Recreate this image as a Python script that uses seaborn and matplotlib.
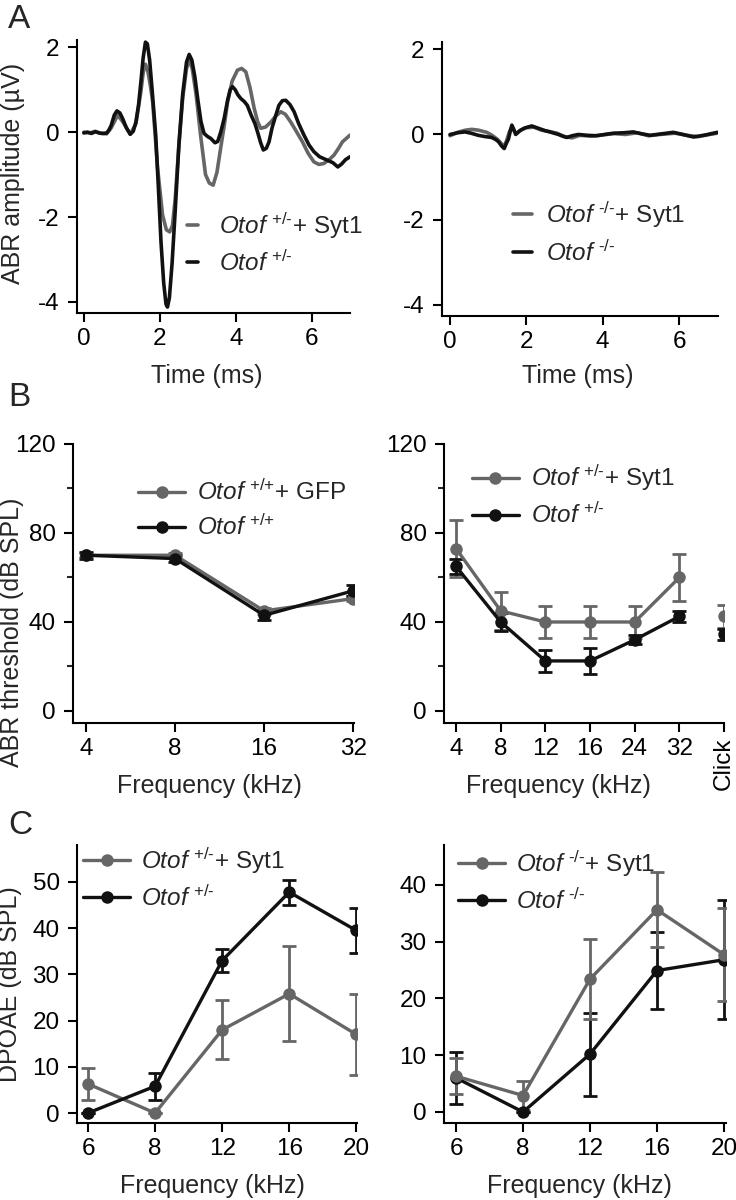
import numpy as np
import pandas as pd
import matplotlib
matplotlib.use("Agg")
import matplotlib.pyplot as plt
import seaborn as sns

# ---- panel A: ABR waveforms (time in ms, amplitude in uV) ----
t_het_syt1 = [0.0, 0.15, 0.3, 0.45, 0.6, 0.72, 0.89, 1.02, 1.22, 1.37, 1.5, 1.56, 1.62, 1.68, 1.75, 1.81,
              1.94, 2.07, 2.17, 2.26, 2.33, 2.4, 2.5, 2.6, 2.7, 2.77, 2.85, 2.95, 3.07, 3.2, 3.3, 3.4,
              3.5, 3.61, 3.7, 3.78, 3.9, 4.04, 4.15, 4.26, 4.37, 4.48, 4.57, 4.65, 4.78, 4.92, 5.05,
              5.18, 5.3, 5.44, 5.6, 5.75, 5.9, 6.05, 6.18, 6.31, 6.45, 6.58, 6.7, 6.8, 6.9, 7.0]
a_het_syt1 = [0.0, -0.02, 0.02, -0.03, -0.04, 0.1, 0.4, 0.25, -0.05, 0.2, 0.95, 1.4, 1.6, 1.45, 1.1, 0.71,
              -0.85, -1.95, -2.3, -2.35, -2.2, -1.6, -0.3, 0.8, 1.5, 1.7, 1.5, 0.9, -0.07, -1.0, -1.2, -1.25,
              -0.95, -0.31, 0.2, 0.71, 1.2, 1.46, 1.5, 1.42, 1.05, 0.56, 0.25, 0.09, 0.12, 0.24, 0.38,
              0.48, 0.42, 0.24, 0.0, -0.23, -0.5, -0.7, -0.76, -0.74, -0.65, -0.54, -0.38, -0.23, -0.15, -0.07]

t_het = [0.0, 0.1, 0.2, 0.3, 0.4, 0.5, 0.6, 0.66, 0.72, 0.8, 0.87, 0.95, 1.02, 1.12, 1.22, 1.3, 1.37,
         1.44, 1.5, 1.56, 1.62, 1.67, 1.73, 1.8, 1.89, 1.96, 2.03, 2.1, 2.16, 2.2, 2.25, 2.32, 2.4, 2.5,
         2.6, 2.7, 2.77, 2.84, 2.92, 3.0, 3.08, 3.16, 3.25, 3.34, 3.45, 3.52, 3.6, 3.69, 3.78, 3.85,
         3.91, 3.98, 4.05, 4.13, 4.22, 4.3, 4.4, 4.5, 4.57, 4.65, 4.72, 4.8, 4.87, 4.95, 5.05, 5.13,
         5.22, 5.31, 5.42, 5.53, 5.65, 5.79, 5.92, 6.05, 6.2, 6.4, 6.55, 6.68, 6.78, 6.88, 7.0]
a_het = [-0.02, 0.0, -0.03, 0.01, -0.02, -0.03, -0.02, 0.05, 0.16, 0.4, 0.5, 0.45, 0.32, 0.1, -0.05, 0.02,
         0.24, 0.65, 1.18, 1.75, 2.12, 2.08, 1.7, 0.95, -0.07, -1.3, -2.6, -3.55, -4.05, -4.12, -3.9, -3.1,
         -1.9, -0.3, 0.9, 1.65, 1.83, 1.7, 1.3, 0.75, 0.25, -0.03, -0.1, -0.15, -0.25, -0.22, 0.0, 0.32,
         0.75, 1.0, 1.07, 1.0, 0.88, 0.79, 0.72, 0.63, 0.4, 0.2, 0.0, -0.25, -0.42, -0.38, -0.23, 0.1,
         0.4, 0.63, 0.74, 0.75, 0.65, 0.48, 0.2, -0.07, -0.3, -0.46, -0.58, -0.66, -0.72, -0.82, -0.75,
         -0.65, -0.58]

t_ko_syt1 = [0.0, 0.2, 0.4, 0.57, 0.75, 0.96, 1.1, 1.25, 1.35, 1.42, 1.48, 1.55, 1.62, 1.68, 1.74, 1.85,
             2.0, 2.2, 2.4, 2.6, 2.8, 3.0, 3.2, 3.4, 3.7, 4.0, 4.3, 4.6, 4.9, 5.2, 5.5, 5.9, 6.2, 6.5,
             6.8, 7.0]
a_ko_syt1 = [-0.03, 0.05, 0.1, 0.12, 0.1, 0.05, -0.02, -0.12, -0.22, -0.28, -0.15, 0.05, 0.18, 0.08, 0.02,
             0.1, 0.16, 0.17, 0.1, 0.07, 0.03, -0.05, -0.08, -0.02, -0.04, -0.01, 0.02, 0.0, 0.04, -0.03,
             0.0, 0.03, -0.02, -0.05, 0.0, 0.03]

t_ko = [0.0, 0.2, 0.39, 0.55, 0.74, 0.92, 1.09, 1.2, 1.27, 1.35, 1.42, 1.48, 1.53, 1.58, 1.62, 1.67,
        1.72, 1.78, 1.83, 1.95, 2.14, 2.3, 2.49, 2.65, 2.84, 2.95, 3.06, 3.2, 3.36, 3.6, 3.84, 4.05,
        4.28, 4.55, 4.8, 5.0, 5.24, 5.5, 5.85, 6.1, 6.38, 6.7, 7.0]
a_ko = [0.0, 0.04, 0.06, 0.03, -0.02, -0.05, -0.07, -0.12, -0.17, -0.27, -0.33, -0.2, -0.11, 0.08, 0.22,
        0.12, 0.0, 0.05, 0.09, 0.15, 0.2, 0.15, 0.09, 0.05, 0.0, -0.04, -0.07, -0.03, 0.0, -0.02, -0.03,
        0.0, 0.03, 0.04, 0.06, 0.02, -0.02, 0.01, 0.05, 0.0, -0.06, -0.01, 0.05]

# ---- panel B: ABR thresholds (dB SPL) ----
freq_b_wt = ["4", "8", "16", "32"]
thr_wt_gfp = [70, 70, 45, 50.5]
err_wt_gfp = [1.0, 1.0, 1.5, 1.0]
thr_wt = [70, 68.5, 43, 54]
err_wt = [1.5, 1.5, 2.0, 2.5]

freq_b_het = ["4", "8", "12", "16", "24", "32"]
thr_het_syt1 = [73, 45, 40, 40, 40, 60]
err_het_syt1 = [13, 8.5, 7, 7, 7, 10.5]
thr_het = [65, 40, 22.5, 22.5, 32, 42.5]
err_het = [3.5, 4, 5, 6, 2, 2.5]
click_het_syt1, click_err_het_syt1 = 42.5, 5.0
click_het, click_err_het = 34.5, 2.5

# ---- panel C: DPOAE (dB SPL) ----
freq_c = ["6", "8", "12", "16", "20"]
dp_het_syt1 = [6.3, 0.0, 18.0, 25.8, 17.0]
dp_err_het_syt1 = [3.4, 0.0, 6.4, 10.3, 8.8]
dp_het = [0.0, 5.8, 33.0, 47.8, 39.5]
dp_err_het = [0.0, 2.9, 2.5, 2.7, 4.9]
dp_ko_syt1 = [6.3, 2.9, 23.4, 35.6, 27.7]
dp_err_ko_syt1 = [3.2, 2.5, 7.1, 6.6, 8.2]
dp_ko = [6.0, 0.0, 10.2, 24.9, 26.8]
dp_err_ko = [4.6, 0.0, 7.3, 6.7, 10.5]

GRAY = "#666666"
BLACK = "#111111"

sns.set_theme(style="ticks")
plt.rcParams["font.family"] = ["Liberation Sans", "DejaVu Sans"]
plt.rcParams["mathtext.fontset"] = "custom"
plt.rcParams["mathtext.rm"] = "Liberation Sans"
plt.rcParams["mathtext.it"] = "Liberation Sans:italic"
plt.rcParams["mathtext.default"] = "regular"
plt.rcParams["axes.linewidth"] = 1.5
plt.rcParams["axes.unicode_minus"] = False


def geno(sup, extra=""):
    return r"$\mathit{Otof}^{\text{ " + sup + "}}$" + extra


FS = 17.5
W, H = 736, 1200
fig = plt.figure(figsize=(W / 100, H / 100), dpi=100)


def add_ax(x0, x1, y0, y1):
    # pixel box -> figure fraction
    return fig.add_axes([x0 / W, 1 - y1 / H, (x1 - x0) / W, (y1 - y0) / H])


def style(ax):
    sns.despine(ax=ax)
    ax.tick_params(direction="out", length=6.5, width=1.5, labelsize=FS, colors="black")
    ax.tick_params(axis="x", pad=4)
    ax.tick_params(axis="y", pad=6)
    for s in ax.spines.values():
        s.set_linewidth(1.5)
        s.set_color("black")


def place_labels(ax, xl, xpos, ylab=None, ypos=None):
    ax.set_xlabel(xl, fontsize=18)
    ax.xaxis.set_label_coords(*xpos)
    ax.xaxis.label.set_va("center")
    if ylab is not None:
        ax.set_ylabel(ylab, fontsize=18)
        ax.yaxis.set_label_coords(*ypos)
        ax.yaxis.label.set_va("center")
    else:
        ax.set_ylabel("")


# ---------- A ----------
axA1 = add_ax(77, 350, 40, 313)
sns.lineplot(x=t_het_syt1, y=a_het_syt1, ax=axA1, color=GRAY, lw=2.6, label=geno("+/-", "+ Syt1"))
sns.lineplot(x=t_het, y=a_het, ax=axA1, color=BLACK, lw=2.6, label=geno("+/-"))
axA1.set_xlim(-0.18, 7.0)
axA1.set_ylim(-4.26, 2.17)
axA1.set_xticks([0, 2, 4, 6])
axA1.set_yticks([-4, -2, 0, 2])
style(axA1)
place_labels(axA1, "Time (ms)", (0.476, -0.231), "ABR amplitude (µV)", (-0.234, 0.511))
axA1.legend(loc="center left", bbox_to_anchor=(0.403, 0.255), frameon=False, fontsize=FS,
            handlelength=0.45, handletextpad=0.85, labelspacing=0.4, borderpad=0, borderaxespad=0)

axA2 = add_ax(442, 718, 42, 316)
sns.lineplot(x=t_ko_syt1, y=a_ko_syt1, ax=axA2, color=GRAY, lw=2.6, label=geno("-/-", "+ Syt1"))
sns.lineplot(x=t_ko, y=a_ko, ax=axA2, color=BLACK, lw=2.6, label=geno("-/-"))
axA2.set_xlim(-0.21, 7.02)
axA2.set_ylim(-4.26, 2.17)
axA2.set_xticks([0, 2, 4, 6])
axA2.set_yticks([-4, -2, 0, 2])
style(axA2)
place_labels(axA2, "Time (ms)", (0.491, -0.22))
axA2.legend(loc="center left", bbox_to_anchor=(0.257, 0.304), frameon=False, fontsize=FS,
            handlelength=0.8, handletextpad=0.55, labelspacing=0.45, borderpad=0, borderaxespad=0)


def thr_panel(ax, series):
    for vals, errs, color, lab in series:
        x = np.arange(len(vals))
        ax.errorbar(x, vals, yerr=errs, fmt="none", ecolor=color, elinewidth=2,
                    capsize=5, capthick=2, zorder=2)
        sns.lineplot(x=x, y=vals, ax=ax, color=color, lw=2.4, marker="o", markersize=9,
                     markeredgewidth=0, label=lab, zorder=3)


# ---------- B ----------
axB1 = add_ax(73, 354, 444, 723)
thr_panel(axB1, [(thr_wt_gfp, err_wt_gfp, GRAY, geno("+/+", "+ GFP")),
                 (thr_wt, err_wt, BLACK, geno("+/+"))])
axB1.set_xlim(-0.146, 3.01)
axB1.set_ylim(-5.4, 120)
axB1.set_xticks(range(len(freq_b_wt)))
axB1.set_xticklabels(freq_b_wt)
axB1.set_yticks([0, 40, 80, 120])
axB1.set_yticks([20, 60, 100], minor=True)
style(axB1)
axB1.tick_params(axis="y", which="minor", length=4, width=1.5)
place_labels(axB1, "Frequency (kHz)", (0.484, -0.226), "ABR threshold (dB SPL)", (-0.217, 0.326))
axB1.legend(loc="center left", bbox_to_anchor=(0.231, 0.763), frameon=False, fontsize=FS,
            handlelength=1.95, handletextpad=0.5, labelspacing=0.4, borderpad=0, borderaxespad=0)

axB2 = add_ax(444, 724, 444, 723)
thr_panel(axB2, [(thr_het_syt1, err_het_syt1, GRAY, geno("+/-", "+ Syt1")),
                 (thr_het, err_het, BLACK, geno("+/-"))])
click_x = len(freq_b_het)
for v, e, c in [(click_het_syt1, click_err_het_syt1, GRAY), (click_het, click_err_het, BLACK)]:
    axB2.errorbar([click_x], [v], yerr=[e], fmt="none", ecolor=c, elinewidth=2, capsize=5, capthick=2)
    sns.scatterplot(x=[click_x], y=[v], ax=axB2, color=c, s=80, linewidth=0, zorder=3)
axB2.set_xlim(-0.27, 6.0)
axB2.set_ylim(-5.4, 120)
axB2.set_xticks(range(len(freq_b_het) + 1))
axB2.set_xticklabels(freq_b_het + ["Click"])
axB2.get_xticklabels()[-1].set_rotation(90)
axB2.set_yticks([0, 40, 80, 120])
axB2.set_yticks([20, 60, 100], minor=True)
style(axB2)
axB2.tick_params(axis="y", which="minor", length=4, width=1.5)
place_labels(axB2, "Frequency (kHz)", (0.41, -0.226))
axB2.legend(loc="center left", bbox_to_anchor=(0.099, 0.815), frameon=False, fontsize=FS,
            handlelength=1.95, handletextpad=0.5, labelspacing=0.4, borderpad=0, borderaxespad=0)

# ---------- C ----------
axC1 = add_ax(77, 357, 845, 1123)
thr_panel(axC1, [(dp_het_syt1, dp_err_het_syt1, GRAY, geno("+/-", "+ Syt1")),
                 (dp_het, dp_err_het, BLACK, geno("+/-"))])
axC1.set_xlim(-0.164, 4.01)
axC1.set_ylim(-2.16, 58)
axC1.set_xticks(range(len(freq_c)))
axC1.set_xticklabels(freq_c)
axC1.set_yticks([0, 10, 20, 30, 40, 50])
style(axC1)
place_labels(axC1, "Frequency (kHz)", (0.484, -0.227), "DPOAE (dB SPL)", (-0.239, 0.5))
axC1.legend(loc="center left", bbox_to_anchor=(0.021, 0.881), frameon=False, fontsize=FS,
            handlelength=1.95, handletextpad=0.45, labelspacing=0.4, borderpad=0, borderaxespad=0)

axC2 = add_ax(444, 726, 845, 1123)
thr_panel(axC2, [(dp_ko, dp_err_ko, BLACK, geno("-/-")),
                 (dp_ko_syt1, dp_err_ko_syt1, GRAY, geno("-/-", "+ Syt1"))])
axC2.set_xlim(-0.18, 4.03)
axC2.set_ylim(-1.94, 47)
axC2.set_xticks(range(len(freq_c)))
axC2.set_xticklabels(freq_c)
axC2.set_yticks([0, 10, 20, 30, 40])
style(axC2)
place_labels(axC2, "Frequency (kHz)", (0.479, -0.227))
h, l = axC2.get_legend_handles_labels()
axC2.legend(h[::-1], l[::-1], loc="center left", bbox_to_anchor=(0.05, 0.871), frameon=False,
            fontsize=FS, handlelength=1.95, handletextpad=0.45, labelspacing=0.4, borderpad=0,
            borderaxespad=0)

# panel letters
for letter, y in [("A", 19), ("B", 397), ("C", 826)]:
    fig.text(8 / W, 1 - y / H, letter, fontsize=24, ha="left", va="center")

fig.savefig("out.png", dpi=100)
